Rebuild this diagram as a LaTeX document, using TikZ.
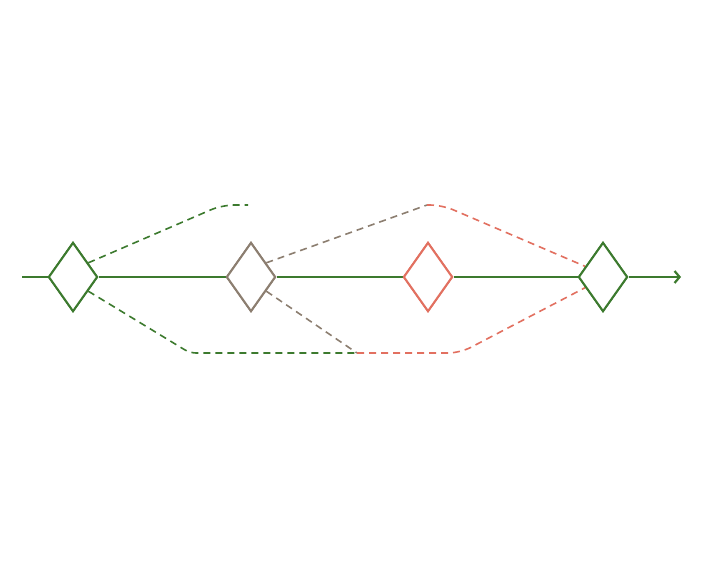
\documentclass[tikz,border=0pt]{standalone}
\usetikzlibrary{shapes.geometric,arrows.meta,calc}
\definecolor{pgreen}{RGB}{60,122,46}
\definecolor{pbrown}{RGB}{140,126,112}
\definecolor{pred}{RGB}{226,112,96}
\begin{document}
\begin{tikzpicture}[x=1pt,y=-1pt,
  gate/.style={draw, fill=white, shape=diamond, inner sep=0pt, minimum width=49pt, minimum height=69pt, line width=2pt},
  flow/.style={line width=2.2pt},
  alt/.style={line width=1.6pt, dash pattern=on 7pt off 5pt, rounded corners=12pt}]
\useasboundingbox[fill=white] (0,0) rectangle (706,566);
% nodes
\node[gate, draw=pgreen] (d1) at (73,277) {};
\node[gate, draw=pbrown] (d2) at (251,277) {};
\node[gate, draw=pred] (d3) at (428,277) {};
\node[gate, draw=pgreen] (d4) at (603,277) {};
\coordinate (s) at (22,277);
\coordinate (e) at (681,277);
\coordinate (gu) at (248,205);
\coordinate (ml) at (357,353);
\coordinate (mu) at (427,205);
% dashed alternatives
\draw[alt, pgreen] ($(d1.east)!0.4!(d1.north)$) -- (222,205) -- (gu);
\draw[alt, pgreen, rounded corners=6pt] ($(d1.east)!0.4!(d1.south)$) -- (190,353) -- (ml);
\draw[alt, pbrown] ($(d2.east)!0.4!(d2.north)$) -- (mu);
\draw[alt, pbrown] ($(d2.east)!0.4!(d2.south)$) -- (ml);
\draw[alt, pred] (mu) -- (442,205) -- ($(d4.west)!0.3!(d4.north)$);
\draw[alt, pred] (ml) -- (460,353) -- ($(d4.west)!0.3!(d4.south)$);
% main flow
\draw[flow, pgreen] (s) -- (d1.west);
\draw[flow, pgreen] (d1.east) -- (d2.west);
\draw[flow, pgreen] (d2.east) -- (d3.west);
\draw[flow, pgreen] (d3.east) -- (d4.west);
\draw[flow, pgreen, -{Straight Barb[length=5pt,width=12pt]}] (d4.east) -- (e);
% redraw gates on top
\node[gate, draw=pgreen] at (d1) {};
\node[gate, draw=pbrown] at (d2) {};
\node[gate, draw=pred] at (d3) {};
\node[gate, draw=pgreen] at (d4) {};
\end{tikzpicture}
\end{document}
